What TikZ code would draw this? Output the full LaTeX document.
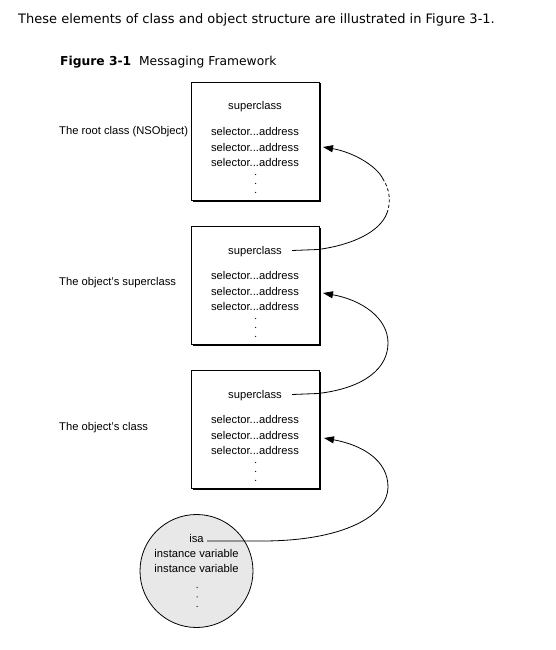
\documentclass[tikz,border=0pt]{standalone}
\usepackage{fontspec}
\setmainfont{Liberation Sans}
\newfontfamily\titlefont{DejaVu Sans}
\usetikzlibrary{arrows.meta,shadows}
\definecolor{objfill}{HTML}{E8E8E8}
\tikzset{
  diag/.style={font=\fontsize{11.2}{9}\selectfont, inner sep=0pt, anchor=base},
  lbl/.style={font=\fontsize{11.2}{13}\selectfont, inner sep=0pt, anchor=base west},
  classbox/.style={draw, line width=0.8pt, fill=white, minimum width=128pt, minimum height=118pt,
    inner sep=0pt, anchor=north west,
    general shadow={fill=black, shadow xshift=1.1pt, shadow yshift=-1.1pt}},
  objcircle/.style={draw, line width=0.8pt, fill=objfill, circle, minimum size=113pt, inner sep=0pt},
  link/.style={line width=0.8pt},
  linkarrow/.style={line width=0.8pt, -{Triangle[length=10pt,width=7pt]}},
  dotmark/.style={circle, fill=black, inner sep=0pt, minimum size=1.3pt}
}
\begin{document}
\begin{tikzpicture}[x=1pt,y=-1pt]
\useasboundingbox (0,0) rectangle (556,650);

% heading texts
\node[anchor=base west, inner sep=0pt, font=\titlefont\fontsize{13}{15}\selectfont] (intro) at (18,24)
  {These elements of class and object structure are illustrated in Figure 3-1.};
\node[anchor=base west, inner sep=0pt, font=\titlefont\fontsize{12.3}{15}\selectfont] (caption) at (60,66)
  {\textbf{Figure 3-1}\ \ Messaging Framework};

% class boxes
\node[classbox] (b1) at (191,82) {};
\node[classbox] (b2) at (191,226) {};
\node[classbox] (b3) at (191,370) {};

% box 1 contents
\node[diag] (sc1) at (255,110) {superclass};
\node[diag] (s11) at (255,135.5) {selector...address};
\node[diag] (s12) at (255,151) {selector...address};
\node[diag] (s13) at (255,166.5) {selector...address};
\node[dotmark] (d1a) at (255.6,174.4) {};
\node[dotmark] (d1b) at (255.6,183.4) {};
\node[dotmark] (d1c) at (255.6,192.4) {};

% box 2 contents
\node[diag] (sc2) at (255,254) {superclass};
\node[diag] (s21) at (255,279.5) {selector...address};
\node[diag] (s22) at (255,295) {selector...address};
\node[diag] (s23) at (255,310.5) {selector...address};
\node[dotmark] (d2a) at (255.6,318.4) {};
\node[dotmark] (d2b) at (255.6,327.4) {};
\node[dotmark] (d2c) at (255.6,336.4) {};

% box 3 contents
\node[diag] (sc3) at (255,398) {superclass};
\node[diag] (s31) at (255,423.5) {selector...address};
\node[diag] (s32) at (255,439) {selector...address};
\node[diag] (s33) at (255,454.5) {selector...address};
\node[dotmark] (d3a) at (255.6,462.4) {};
\node[dotmark] (d3b) at (255.6,471.4) {};
\node[dotmark] (d3c) at (255.6,480.4) {};

% labels
\node[lbl] (l1) at (59,135) {The root class (NSObject)};
\node[lbl] (l2) at (59,285) {The object's superclass};
\node[lbl] (l3) at (59,430) {The object's class};

% object circle
\node[objcircle] (obj) at (196.5,571) {};
\node[diag] (isa) at (196.5,542) {isa};
\node[diag] (iv1) at (196.5,557) {instance variable};
\node[diag] (iv2) at (196.5,572.5) {instance variable};
\node[dotmark] (d4a) at (197.1,587.4) {};
\node[dotmark] (d4b) at (197.1,596.9) {};
\node[dotmark] (d4c) at (197.1,606.4) {};

% connector anchor points
\coordinate (a1s) at (292,250.5);
\coordinate (a1t) at (323,147);
\coordinate (a2s) at (292,394.5);
\coordinate (a2t) at (323,293);
\coordinate (a3s) at (207,541);
\coordinate (a3t) at (324,438);

% arrow from object's superclass to root class (partly dashed)
\draw[link] (a1s) -- (318,249.5) .. controls (352,245) and (380,232) .. (387,213);
\draw[link, dash pattern=on 3pt off 2.5pt] (387,213) .. controls (391,202) and (390,190) .. (383,179);
\draw[linkarrow] (383,179) .. controls (376,165) and (352,152) .. (a1t);

% arrow from object's class to superclass
\draw[linkarrow] (a2s) -- (318,393.5) .. controls (365,388) and (388,368) .. (388,343)
  .. controls (388,318) and (362,300) .. (a2t);

% arrow from isa to object's class
\draw[linkarrow] (a3s) -- (262,541) .. controls (345,541) and (388,515) .. (388,487)
  .. controls (388,460) and (362,445) .. (a3t);
\end{tikzpicture}
\end{document}
